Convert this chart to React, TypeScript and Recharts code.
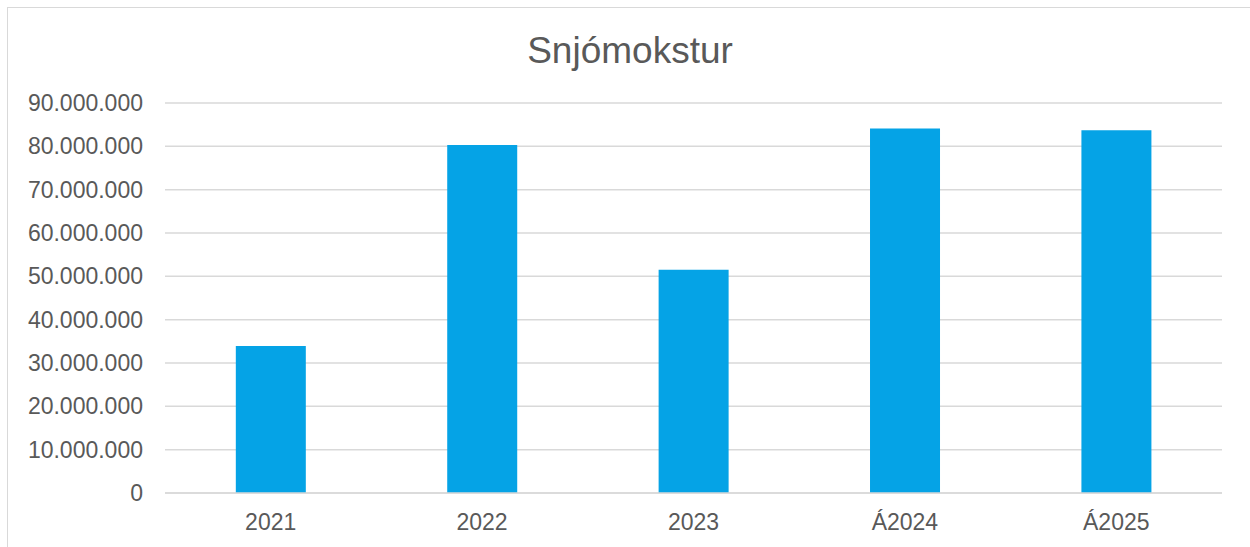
import React from 'react';
import { BarChart, Bar, XAxis, YAxis, CartesianGrid } from 'recharts';

const years = ['2021', '2022', '2023', 'Á2024', 'Á2025'];
const amounts = [33900000, 80300000, 51500000, 84100000, 83700000];
const yTicks = [0, 10000000, 20000000, 30000000, 40000000, 50000000, 60000000, 70000000, 80000000, 90000000];

const data = years.map((year, i) => ({ year, amount: amounts[i] }));

const fmt = (v: number) => String(v).replace(/\B(?=(\d{3})+(?!\d))/g, '.');

const font = 'Liberation Sans, Arial, sans-serif';
const textColor = '#595959';

export default function App() {
    return (
        <div style={{ position: 'fixed', left: 0, top: 0, width: 1250, height: 547, overflow: 'hidden', background: '#fff' }}>
            <div style={{ position: 'absolute', left: 7, top: 7, width: 1244, height: 560, border: '1px solid #d9d9d9', background: '#fff' }}>
                <div style={{ position: 'absolute', left: 0, top: 24, width: '100%', textAlign: 'center', fontFamily: font, fontSize: 37, lineHeight: '37px', color: textColor }}>
                    Snjómokstur
                </div>
                <BarChart width={1244} height={540} data={data} margin={{ top: 95, right: 30, bottom: 15, left: 0 }} barCategoryGap="33.5%">
                    <CartesianGrid vertical={false} stroke="#d9d9d9" strokeWidth={1.5} />
                    <XAxis dataKey="year" height={40} axisLine={{ stroke: '#d9d9d9', strokeWidth: 1.5 }} tickLine={false} tickSize={0} tickMargin={21}
                        tick={{ fill: textColor, fontSize: 23, fontFamily: font }} />
                    <YAxis width={157} domain={[0, 90000000]} ticks={yTicks} interval={0} axisLine={false} tickLine={false} tickSize={0} tickMargin={22}
                        tickFormatter={fmt} tick={{ fill: textColor, fontSize: 23, fontFamily: font }} />
                    <Bar dataKey="amount" fill="#05A3E6" isAnimationActive={false} />
                </BarChart>
            </div>
        </div>
    );
}
